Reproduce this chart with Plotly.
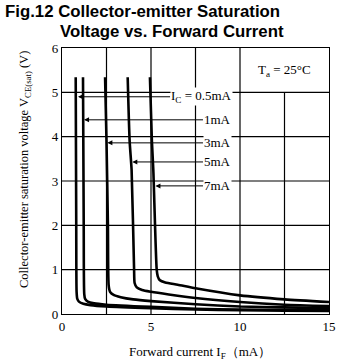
import plotly.graph_objects as go

# Collector current series (mA) and their V_CE(sat) curves vs forward current I_F (mA)
ic_labels = ["I<sub>C</sub> = 0.5mA", "1mA", "3mA", "5mA", "7mA"]

if_05 = [0.77, 0.80, 0.82, 0.86, 0.95, 1.2, 1.6, 2.5, 5.0, 7.5, 10.0, 12.5, 15.0]
v_05 = [5.34, 2.0, 0.5, 0.34, 0.28, 0.23, 0.20, 0.17, 0.13, 0.10, 0.085, 0.075, 0.07]

if_1 = [1.18, 1.22, 1.25, 1.30, 1.45, 1.8, 2.5, 5.0, 7.5, 10.0, 12.5, 15.0]
v_1 = [5.34, 2.0, 0.45, 0.34, 0.28, 0.24, 0.21, 0.16, 0.12, 0.10, 0.095, 0.09]

if_3 = [2.42, 2.50, 2.58, 2.62, 2.70, 2.9, 3.3, 4.0, 5.0, 7.5, 10.0, 12.5, 15.0]
v_3 = [5.34, 3.9, 2.0, 0.65, 0.50, 0.43, 0.38, 0.33, 0.29, 0.22, 0.17, 0.15, 0.13]

if_5 = [3.69, 3.80, 3.91, 4.05, 4.08, 4.2, 4.5, 5.0, 6.0, 7.5, 10.0, 12.5, 15.0]
v_5 = [5.34, 3.9, 3.25, 1.0, 0.70, 0.60, 0.54, 0.50, 0.44, 0.36, 0.27, 0.21, 0.18]

if_7 = [4.94, 5.05, 5.13, 5.32, 5.38, 5.5, 5.8, 6.5, 7.5, 10.0, 12.5, 15.0]
v_7 = [5.34, 3.9, 3.25, 1.0, 0.85, 0.76, 0.71, 0.66, 0.58, 0.42, 0.33, 0.27]

curves = [(if_05, v_05), (if_1, v_1), (if_3, v_3), (if_5, v_5), (if_7, v_7)]

# Leader-arrow tips on each curve and label anchor points (data units)
tip_if = [0.90, 1.24, 2.55, 3.95, 5.25]
tip_v = [4.90, 4.38, 3.86, 3.43, 2.89]
label_if = [6.07, 7.92, 7.92, 7.92, 7.92]

x_ticks = [0, 5, 10, 15]
y_ticks = [0, 1, 2, 3, 4, 5, 6]

SERIF = "Liberation Serif, Times New Roman, serif"
SANS = "Liberation Sans, Arial, sans-serif"

W, H = 348, 363
L, R, T, B = 62, 19, 48, 49
PW, PH = W - L - R, H - T - B


def px_to_paper(px, py):
    return (px - L) / PW, (H - B - py) / PH


fig = go.Figure()
for xs, ys in curves:
    fig.add_trace(go.Scatter(
        x=xs, y=ys, mode="lines",
        line=dict(color="black", width=2.6, shape="spline", smoothing=0.6),
        showlegend=False, hoverinfo="skip",
    ))

# Grid lines (the 12.5 mA line stops below the temperature box)
shapes = []
for gx in [2.5, 5, 7.5, 10]:
    shapes.append(dict(type="line", xref="x", yref="y", x0=gx, x1=gx, y0=0, y1=6,
                       line=dict(color="black", width=1.2), layer="below"))
shapes.append(dict(type="line", xref="x", yref="y", x0=12.5, x1=12.5, y0=0, y1=5,
                   line=dict(color="black", width=1.2), layer="below"))
for gy in [1, 2, 3, 4, 5]:
    shapes.append(dict(type="line", xref="x", yref="y", x0=0, x1=15, y0=gy, y1=gy,
                       line=dict(color="black", width=1.2), layer="below"))

annotations = []
for lab, tx, ty, lx in zip(ic_labels, tip_if, tip_v, label_if):
    annotations.append(dict(
        x=tx, y=ty, xref="x", yref="y",
        ax=lx, ay=ty, axref="x", ayref="y",
        text=lab, xanchor="left", yanchor="middle",
        showarrow=True, arrowhead=2, arrowsize=1, arrowwidth=1, arrowcolor="black",
        bgcolor="white", borderpad=0,
        font=dict(family=SERIF, size=13, color="black"),
    ))

annotations.append(dict(
    x=12.5, y=5.5, xref="x", yref="y", showarrow=False,
    xanchor="center", yanchor="middle",
    text="T<sub>a</sub> = 25°C", font=dict(family=SERIF, size=13, color="black"),
))

# Two-line bold title
x1, y1 = px_to_paper(3, 12)
annotations.append(dict(
    x=x1, y=y1, xref="paper", yref="paper", showarrow=False,
    xanchor="left", yanchor="middle",
    text="<b>Fig.12 Collector-emitter Saturation</b>",
    font=dict(family=SANS, size=16.8, color="black"),
))
x2, y2 = px_to_paper(58, 31)
annotations.append(dict(
    x=x2, y=y2, xref="paper", yref="paper", showarrow=False,
    xanchor="left", yanchor="middle",
    text="<b>Voltage vs. Forward Current</b>",
    font=dict(family=SANS, size=16.8, color="black"),
))

# Axis titles
xt, yt = px_to_paper(200, 352)
annotations.append(dict(
    x=xt, y=yt, xref="paper", yref="paper", showarrow=False,
    xanchor="center", yanchor="middle",
    text="Forward current I<sub>F</sub>（mA）",
    font=dict(family=SERIF, size=13, color="black"),
))
xt, yt = px_to_paper(25, 170)
annotations.append(dict(
    x=xt, y=yt, xref="paper", yref="paper", showarrow=False, textangle=-90,
    xanchor="center", yanchor="middle",
    text="Collector-emitter saturation voltage V<sub>CE(sat)</sub> (V)",
    font=dict(family=SERIF, size=12.5, color="black"),
))

fig.update_layout(
    width=W, height=H,
    margin=dict(l=L, r=R, t=T, b=B),
    paper_bgcolor="white", plot_bgcolor="white",
    shapes=shapes,
    annotations=annotations,
    xaxis=dict(range=[0, 15], tickvals=x_ticks, showgrid=False, zeroline=False,
               showline=True, mirror=True, linecolor="black", linewidth=1.3,
               ticks="", tickfont=dict(family=SERIF, size=13, color="black")),
    yaxis=dict(range=[0, 6], tickvals=y_ticks, showgrid=False, zeroline=False,
               showline=True, mirror=True, linecolor="black", linewidth=1.3,
               ticks="", tickfont=dict(family=SERIF, size=13, color="black")),
)

fig.write_html("out.html")
